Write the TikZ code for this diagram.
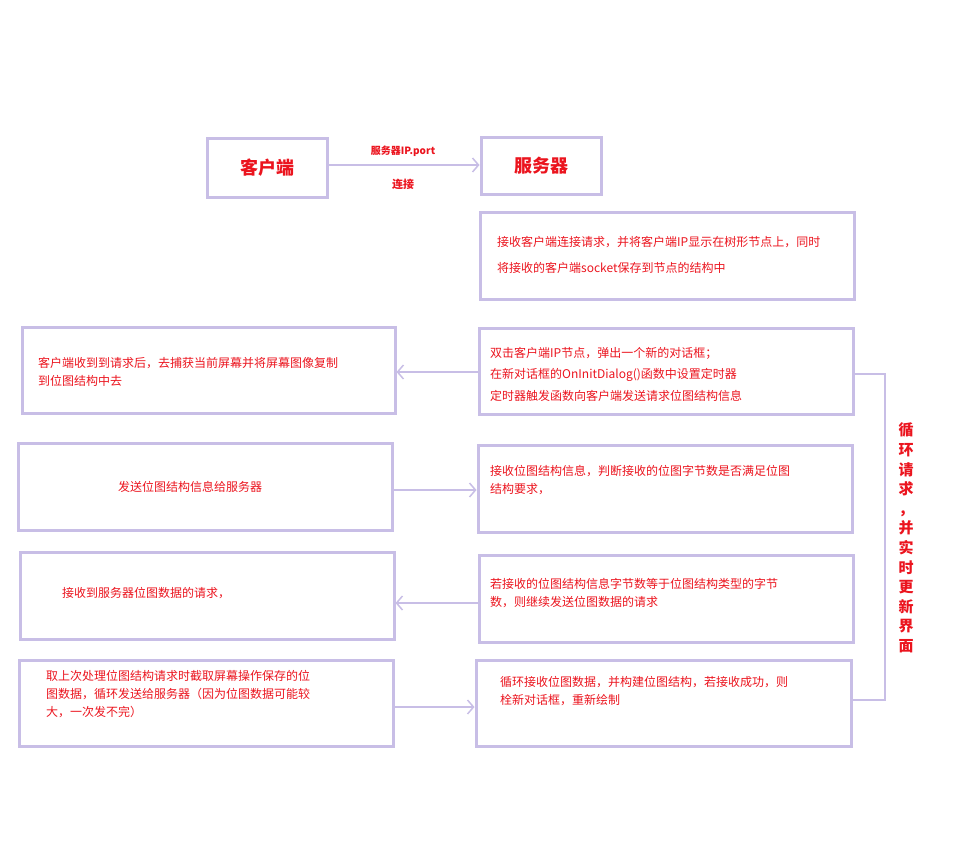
\documentclass[tikz,border=0pt]{standalone}
\usepackage{fontspec}
\setmainfont{Noto Sans CJK SC}
\usetikzlibrary{arrows.meta}
\definecolor{lav}{RGB}{200,190,230}
\definecolor{rd}{RGB}{235,20,30}
\begin{document}
\begin{tikzpicture}[x=1pt,y=-1pt,
 box/.style={draw=lav,line width=3pt},
 conn/.style={draw=lav,line width=2.5pt,-{Straight Barb[length=6pt,width=14pt,line width=1.5pt]}},
 txt/.style={text=rd,font=\fontsize{12}{18}\selectfont,anchor=west,align=left,inner sep=0pt},
 big/.style={text=rd,font=\fontsize{18}{20}\selectfont\bfseries}]
\useasboundingbox (0,0) rectangle (968,848);
\node[box,minimum width=120pt,minimum height=59pt] (cl) at (267,167.5) {};
\node[big] at (cl) {客户端};
\node[box,minimum width=120pt,minimum height=57pt] (sv) at (541,165.5) {};
\node[big] at (sv) {服务器};
\draw[conn] (cl.east |- 0,165) -- (sv.west |- 0,165);
\node[text=rd,font=\fontsize{10}{12}\selectfont\bfseries] (l1) at (403,151) {服务器IP.port};
\node[text=rd,font=\fontsize{11}{12}\selectfont\bfseries] (l2) at (403,184) {连接};
% boxes
\draw[box] (480,212) rectangle (854,299);
\node[txt,font=\fontsize{12}{26}\selectfont] (ta) at (497,255) {接收客户端连接请求，并将客户端IP显示在树形节点上，同时\\将接收的客户端socket保存到节点的结构中};
\node[box,minimum width=373pt,minimum height=86pt] (B) at (208.5,370) {};
\node[txt] at (38,372) {客户端收到到请求后，去捕获当前屏幕并将屏幕图像复制\\到位图结构中去};
\node[box,minimum width=374pt,minimum height=86pt] (C) at (666,371) {};
\node[txt,font=\fontsize{12}{21.5}\selectfont] at (490,374) {双击客户端IP节点，弹出一个新的对话框；\\在新对话框的OnInitDialog()函数中设置定时器\\定时器触发函数向客户端发送请求位图结构信息};
\node[box,minimum width=374pt,minimum height=87pt] (D) at (205,486.5) {};
\node[text=rd,font=\fontsize{12}{18}\selectfont] at (190,487) {发送位图结构信息给服务器};
\node[box,minimum width=374pt,minimum height=87pt] (E) at (665,488.5) {};
\node[txt] at (490,480) {接收位图结构信息，判断接收的位图字节数是否满足位图\\结构要求，};
\node[box,minimum width=374pt,minimum height=87pt] (F) at (207,595.5) {};
\node[txt] at (62,593) {接收到服务器位图数据的请求，};
\node[box,minimum width=374pt,minimum height=87pt] (G) at (666,598.5) {};
\node[txt] at (490,593) {若接收的位图结构信息字节数等于位图结构类型的字节\\数，则继续发送位图数据的请求};
\node[box,minimum width=374pt,minimum height=86pt] (H) at (206,703) {};
\node[txt] at (46,694) {取上次处理位图结构请求时截取屏幕操作保存的位\\图数据，循环发送给服务器（因为位图数据可能较\\大，一次发不完）};
\node[box,minimum width=375pt,minimum height=86pt] (I) at (663.5,703) {};
\node[txt] at (500,691) {循环接收位图数据，并构建位图结构，若接收成功，则\\栓新对话框，重新绘制};
% connectors
\draw[conn] (C.west |- 0,372) -- (B.east |- 0,372);
\draw[conn] (D.east |- 0,490) -- (E.west |- 0,490);
\draw[conn] (G.west |- 0,603) -- (F.east |- 0,603);
\draw[conn] (H.east |- 0,707) -- (I.west |- 0,707);
\coordinate (lt) at (885,374);
\coordinate (lb) at (885,700);
\draw[lav,line width=2.5pt] (C.east |- lt) -- (lt) -- (lb) -- (I.east |- lb);
\node[text=rd,font=\fontsize{15}{19.6}\selectfont\bfseries,align=center] (lp) at (906,538) {循\\环\\请\\求\\，\\并\\实\\时\\更\\新\\界\\面};
\end{tikzpicture}
\end{document}
